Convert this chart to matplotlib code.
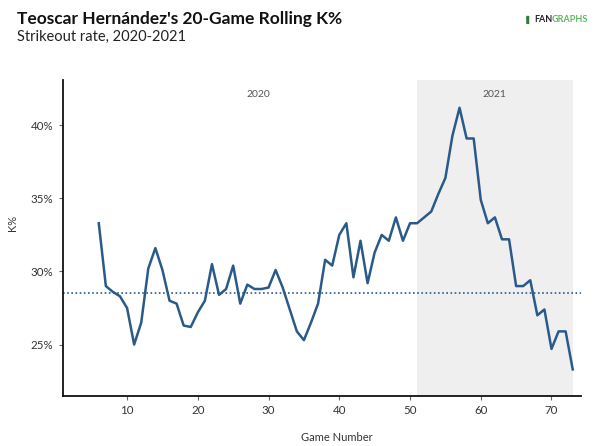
import numpy as np
import matplotlib.pyplot as plt
from matplotlib.ticker import FuncFormatter

plt.rcParams['font.family'] = ['Lato', 'DejaVu Sans']

# 20-game rolling strikeout rate, by game number
games = list(range(6, 74))
k_pct = [33.3, 29.0, 28.6, 28.3, 27.5, 25.0, 26.5, 30.2, 31.6, 30.1,
         28.0, 27.8, 26.3, 26.2, 27.2, 28.0, 30.5, 28.4, 28.8, 30.4,
         27.8, 29.1, 28.8, 28.8, 28.9, 30.1, 28.9, 27.4, 25.9, 25.3,
         26.5, 27.8, 30.8, 30.4, 32.5, 33.3, 29.6, 32.1, 29.2, 31.3,
         32.5, 32.1, 33.7, 32.1, 33.3, 33.3, 33.7, 34.1, 35.3, 36.4,
         39.3, 41.2, 39.1, 39.1, 34.9, 33.3, 33.7, 32.2, 32.2, 29.0,
         29.0, 29.4, 27.0, 27.4, 24.7, 25.9, 25.9, 23.3]
avg_k = 28.5
seasons = ["2020", "2021"]
season_start = [6, 51]
season_end = [51, 73]

blue = "#2a5a8a"

fig = plt.figure(figsize=(6, 4.46), dpi=100)
ax = fig.add_axes([0.1045, 0.1128, 0.9675 - 0.1045, 0.8206 - 0.1128])

ax.axvspan(season_start[1], season_end[1], color="#efefef", lw=0, zorder=0)
ax.axhline(avg_k, color=blue, lw=1.2, ls=(0, (1, 1.5)), zorder=2)
ax.plot(games, k_pct, color=blue, lw=1.8, zorder=3)

for lab, s, e in zip(seasons, season_start, season_end):
    ax.text((s + e) / 2, 42.1, lab, ha="center", va="center",
            fontsize=7.5, color="#555555")

ax.set_xlim(0.9, 74.1)
ax.set_ylim(21.5, 43.1)
ax.set_xticks([10, 20, 30, 40, 50, 60, 70])
ax.set_yticks([25, 30, 35, 40])
ax.yaxis.set_major_formatter(FuncFormatter(lambda v, p: f"{v:.0f}%"))

for s in ["top", "right"]:
    ax.spines[s].set_visible(False)
for s in ["left", "bottom"]:
    ax.spines[s].set_linewidth(1.3)
    ax.spines[s].set_color("#111111")
ax.tick_params(length=3, width=0.8, color="#666666", labelsize=8.3,
               labelcolor="#333333", pad=4)

fig.text(0.0215, 0.5, "K%", rotation=90, ha="center", va="center",
         fontsize=8, color="#333333")
fig.text(0.5617, 0.018, "Game Number", ha="center", va="center",
         fontsize=8, color="#333333")

fig.text(0.028, 0.957, "Teoscar Hernández's 20-Game Rolling K%",
         ha="left", va="center", fontsize=12.5, fontweight="bold", color="#111111")
fig.text(0.028, 0.918, "Strikeout rate, 2020-2021",
         ha="left", va="center", fontsize=10.5, color="#222222")

# FanGraphs wordmark
fig.text(0.874, 0.957, "\u00b7\u258C", ha="left", va="center", fontsize=5.5,
         color="#2e7d32", family="DejaVu Sans")
fig.text(0.891, 0.957, "FAN", ha="left", va="center", fontsize=6.5,
         fontweight="bold", color="#222222")
fig.text(0.9195, 0.957, "GRAPHS", ha="left", va="center", fontsize=6.5,
         fontweight="bold", color="#5cb85c")

fig.savefig("out.png", dpi=100)
